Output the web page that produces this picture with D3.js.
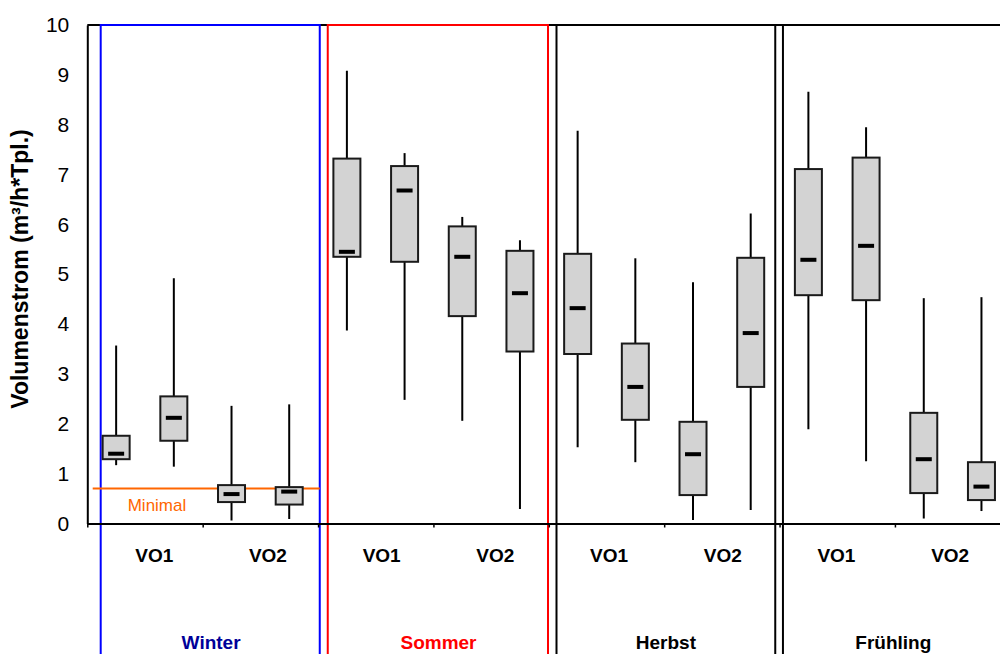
<!DOCTYPE html>
<html>
<head>
<meta charset="utf-8">
<script src="https://cdn.jsdelivr.net/npm/d3@7"></script>
<style>
  body { margin: 0; background: #fff; }
  svg { display: block; font-family: Arial, "Liberation Sans", sans-serif; }
</style>
</head>
<body>
<div id="container"></div>
<script>
/* CONSTANTS AND GLOBALS */
const width = 1000,
  height = 654

// DATA
const seasons = ["Winter", "Sommer", "Herbst", "Frühling"]
const groups = ["VO1", "VO2"]
// 16 boxes: 4 per season, 2 per VO group
const whiskerLow  = [1.17, 1.14, 0.06, 0.09,  3.87, 2.48, 2.06, 0.29,  1.53, 1.23, 0.07, 0.27,  1.89, 1.25, 0.10, 0.25]
const q1          = [1.29, 1.66, 0.43, 0.38,  5.35, 5.25, 4.16, 3.45,  3.40, 2.08, 0.57, 2.74,  4.58, 4.48, 0.61, 0.47]
const median      = [1.40, 2.12, 0.59, 0.64,  5.45, 6.68, 5.35, 4.62,  4.32, 2.74, 1.39, 3.82,  5.29, 5.57, 1.29, 0.74]
const q3          = [1.76, 2.55, 0.77, 0.73,  7.32, 7.17, 5.96, 5.47,  5.41, 3.61, 2.04, 5.33,  7.11, 7.34, 2.22, 1.23]
const whiskerHigh = [3.57, 4.92, 2.36, 2.39,  9.08, 7.43, 6.15, 5.68,  7.88, 5.32, 4.84, 6.22,  8.66, 7.95, 4.52, 4.54]
const yTicks = [0, 1, 2, 3, 4, 5, 6, 7, 8, 9, 10]
const minimalValue = 0.7
const minimalLabel = "Minimal"
const yTitle = "Volumenstrom (m³/h*Tpl.)"

const boxes = median.map((m, i) => ({
  i, lo: whiskerLow[i], q1: q1[i], med: m, q3: q3[i], hi: whiskerHigh[i]
}))

// season frame styling (offsets in px from the season's slot edges)
const frames = [
  { color: "#0000ff", left: 13.4, right: 1.7, colorTop: true },
  { color: "#ff0000", left: 9.7, right: -0.8, colorTop: true },
  { color: "#000000", left: 7.7, right: -4.3, colorTop: false },
  { color: "#000000", left: 3.4, right: null, colorTop: false }
]
const seasonLabelColors = ["#000099", "#ff0000", "#000000", "#000000"]

// SCALES
const xScale = d3.scaleLinear()
  .domain([0, 16])
  .range([87.3, 1010.3])

// category labels sit on a slightly narrower grid than the boxes
const labelScale = d3.scaleLinear()
  .domain([0, 16])
  .range([97.4, 1007])

const yScale = d3.scaleLinear()
  .domain([0, 10])
  .range([523.5, 25])

const boxW = 27

// CREATE SVG ELEMENT
const svg = d3.select("#container")
  .append("svg")
  .attr("width", width)
  .attr("height", height)

// SEASON FRAMES
seasons.forEach((s, k) => {
  const f = frames[k]
  const x0 = xScale(k * 4) + f.left
  const x1 = f.right === null ? null : xScale(k * 4 + 4) + f.right
  svg.append("line")
    .attr("x1", x0).attr("x2", x0)
    .attr("y1", yScale(10)).attr("y2", height + 5)
    .attr("stroke", f.color).attr("stroke-width", 2)
  if (x1 !== null) {
    svg.append("line")
      .attr("x1", x1).attr("x2", x1)
      .attr("y1", yScale(10)).attr("y2", height + 5)
      .attr("stroke", f.color).attr("stroke-width", 2)
  }
})

// X axis
const xAxis = d3.axisBottom(xScale)
  .tickValues(d3.range(0, 17, 2))
  .tickFormat("")
  .tickSize(4)
  .tickSizeOuter(0)

const gx = svg.append("g")
  .attr("class", "xAxis")
  .attr("transform", `translate(0, ${yScale(0)})`)
  .call(xAxis)
gx.select(".domain").attr("stroke-width", 2)
gx.selectAll(".tick line").attr("stroke-width", 1.5)

// top frame line
svg.append("line")
  .attr("x1", xScale(0)).attr("x2", width + 5)
  .attr("y1", yScale(10)).attr("y2", yScale(10))
  .attr("stroke", "#000").attr("stroke-width", 2)

// colored frame tops
seasons.forEach((s, k) => {
  const f = frames[k]
  if (!f.colorTop) return
  svg.append("line")
    .attr("x1", xScale(k * 4) + f.left - 1).attr("x2", xScale(k * 4 + 4) + f.right + 1)
    .attr("y1", yScale(10)).attr("y2", yScale(10))
    .attr("stroke", f.color).attr("stroke-width", 2)
})

// Y axis
const yAxis = d3.axisLeft(yScale)
  .tickValues(yTicks)
  .tickSize(0)
  .tickPadding(18)

const gy = svg.append("g")
  .attr("class", "yAxis")
  .attr("transform", `translate(${xScale(0)}, 0)`)
  .call(yAxis)
gy.select(".domain").attr("stroke-width", 2)
gy.selectAll("text")
  .attr("font-size", 21)
  .attr("font-family", "Arial, 'Liberation Sans', sans-serif")
  .attr("fill", "#000")

// y axis label
svg.append("text")
  .attr("text-anchor", "middle")
  .attr("transform", `translate(28, 269) rotate(-90)`)
  .attr("font-size", 23)
  .attr("font-weight", "bold")
  .text(yTitle)

// MINIMAL LINE
svg.append("line")
  .attr("x1", xScale(0) + 5.4).attr("x2", xScale(4) + 1.7)
  .attr("y1", yScale(minimalValue)).attr("y2", yScale(minimalValue))
  .attr("stroke", "#ff6600").attr("stroke-width", 2)

svg.append("text")
  .attr("x", xScale(1) + 12)
  .attr("y", yScale(minimalValue) + 22)
  .attr("text-anchor", "middle")
  .attr("font-size", 17)
  .attr("fill", "#ff6600")
  .text(minimalLabel)

// DRAW BOXES
const bx = d => xScale(d.i + 0.5)

svg.selectAll(".whisker")
  .data(boxes)
  .join("line")
  .attr("class", "whisker")
  .attr("x1", bx).attr("x2", bx)
  .attr("y1", d => yScale(d.lo))
  .attr("y2", d => yScale(d.hi))
  .attr("stroke", "#000")
  .attr("stroke-width", 2)

svg.selectAll(".box")
  .data(boxes)
  .join("rect")
  .attr("class", "box")
  .attr("x", d => bx(d) - boxW / 2)
  .attr("y", d => yScale(d.q3))
  .attr("width", boxW)
  .attr("height", d => yScale(d.q1) - yScale(d.q3))
  .attr("fill", "#d3d3d3")
  .attr("stroke", "#1a1a1a")
  .attr("stroke-width", 2)

svg.selectAll(".median")
  .data(boxes)
  .join("rect")
  .attr("class", "median")
  .attr("x", d => bx(d) - 8)
  .attr("y", d => yScale(d.med) - 2)
  .attr("width", 16)
  .attr("height", 4)
  .attr("fill", "#000")

// GROUP LABELS
const groupLabels = d3.range(8).map(j => ({ j, label: groups[j % 2] }))
svg.selectAll(".group")
  .data(groupLabels)
  .join("text")
  .attr("class", "group")
  .attr("x", d => labelScale(d.j * 2 + 1))
  .attr("y", 562)
  .attr("text-anchor", "middle")
  .attr("font-size", 19)
  .attr("font-weight", "bold")
  .text(d => d.label)

// SEASON LABELS
svg.selectAll(".season")
  .data(seasons)
  .join("text")
  .attr("class", "season")
  .attr("x", (d, k) => labelScale(k * 4 + 2))
  .attr("y", 649)
  .attr("text-anchor", "middle")
  .attr("font-size", 19)
  .attr("font-weight", "bold")
  .attr("fill", (d, k) => seasonLabelColors[k])
  .text(d => d)
</script>
</body>
</html>
